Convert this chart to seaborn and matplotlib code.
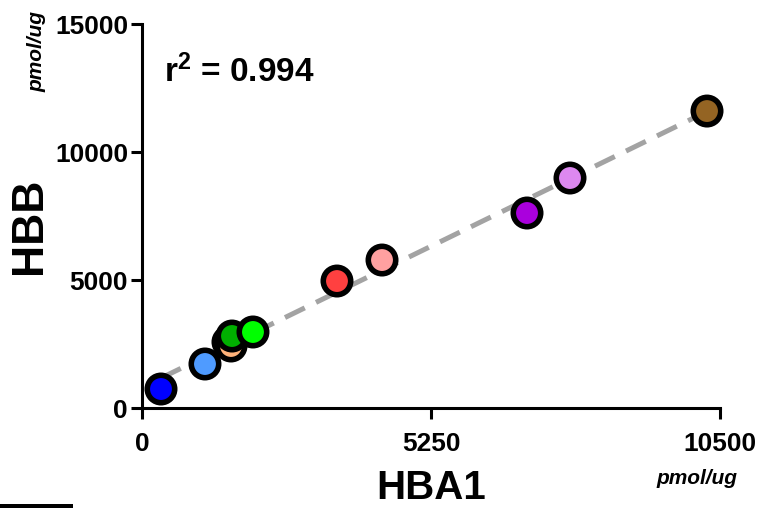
import matplotlib
matplotlib.use("Agg")
import matplotlib.pyplot as plt
from matplotlib.patches import Rectangle
import pandas as pd
import seaborn as sns

# Protein abundance per sample (pmol/ug)
samples = ["S1", "S2", "S3", "S4", "S5", "S6", "S7", "S8", "S9", "S10", "S11"]
hba1 = [345, 1144, 1562, 1617, 1635, 2016, 3542, 4360, 6994, 7775, 10264]
hbb = [742, 1719, 2578, 2422, 2812, 2969, 4960, 5780, 7617, 8984, 11600]
colors = ["#0000FF", "#4F9BFF", "#E8801E", "#FFB27A", "#00AF00", "#00FF00",
          "#FF4040", "#FFA0A0", "#AA00DD", "#DD88F0", "#946423"]
x_ticks = [0, 5250, 10500]
y_ticks = [0, 5000, 10000, 15000]
r2_label = r"$\mathbf{r^2}$ = 0.994"

sns.set_style("ticks")
plt.rcParams["font.family"] = ["Liberation Sans", "DejaVu Sans"]
plt.rcParams.update({
    "text.color": "black",
    "axes.labelcolor": "black",
    "xtick.color": "black",
    "ytick.color": "black",
    "axes.edgecolor": "black",
    "mathtext.fontset": "custom",
    "mathtext.rm": "Liberation Sans",
    "mathtext.bf": "Liberation Sans:bold",
})

df = pd.DataFrame({"sample": samples, "HBA1": hba1, "HBB": hbb})

fig = plt.figure(figsize=(7.62, 5.08), dpi=100)
ax = fig.add_axes([142 / 762, 1 - 408 / 508, 578 / 762, 384 / 508])

sns.regplot(data=df, x="HBA1", y="HBB", ax=ax, scatter=False, ci=None,
            line_kws=dict(color="#A3A3A3", lw=3.6, linestyle=(0, (4.4, 2.5)), zorder=1))
sns.scatterplot(data=df, x="HBA1", y="HBB", hue="sample", palette=colors,
                hue_order=samples, s=390, edgecolor="black", linewidth=4,
                legend=False, ax=ax, zorder=3, clip_on=False)

ax.set_xlim(0, 10500)
ax.set_ylim(0, 15000)
ax.set_xticks(x_ticks)
ax.set_yticks(y_ticks)
ax.set_xticklabels([str(v) for v in x_ticks], fontsize=19, fontweight="bold")
ax.set_yticklabels([str(v) for v in y_ticks], fontsize=19, fontweight="bold")
ax.tick_params(axis="both", length=8, width=2.2, color="black")
ax.tick_params(axis="x", pad=9)
ax.tick_params(axis="y", pad=2)
for side in ("left", "bottom"):
    ax.spines[side].set_linewidth(2.2)
sns.despine(ax=ax)

ax.set_xlabel("HBA1", fontsize=29, fontweight="bold", va="center")
ax.xaxis.set_label_coords(0.5, (408 - 488) / 384)
ax.set_ylabel("HBB", fontsize=32, fontweight="bold", va="center")
ax.yaxis.set_label_coords((30 - 142) / 578, (408 - 226) / 384)

ax.text((164 - 142) / 578, (408 - 82) / 384, r2_label, transform=ax.transAxes,
        fontsize=24, fontweight="bold", ha="left", va="baseline")

unit_font = dict(fontsize=15, fontweight="bold", style="italic")
fig.text(697 / 762, 1 - 478 / 508, "pmol/ug", ha="center", va="center", **unit_font)
fig.text(37 / 762, 1 - 52 / 508, "pmol/ug", ha="center", va="center", rotation=90, **unit_font)

fig.patches.append(Rectangle((0, 0), 73 / 762, 4 / 508, transform=fig.transFigure,
                             facecolor="black", edgecolor="none"))

fig.savefig("out.png", dpi=100)
